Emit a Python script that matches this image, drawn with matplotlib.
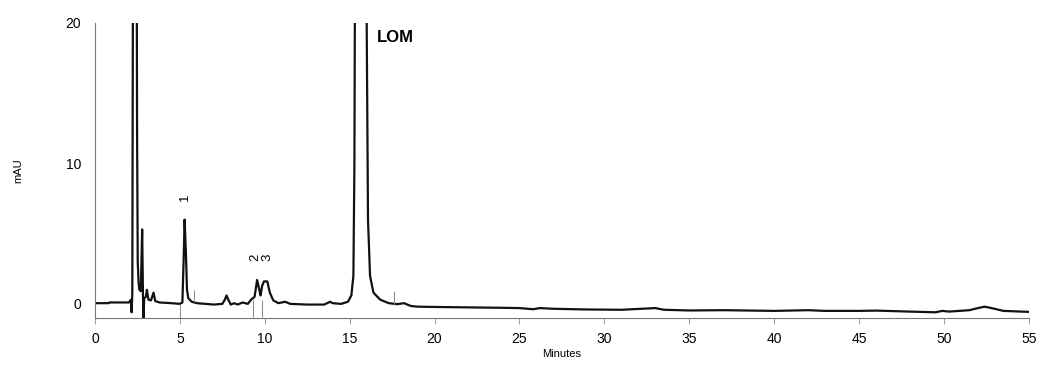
import numpy as np
from matplotlib import pyplot as plt

# chromatogram trace (minutes, mAU)
time = [0.0, 0.8, 0.85, 2.0, 2.12, 2.16, 2.2, 2.25, 2.45, 2.48, 2.52, 2.57, 2.62, 2.7,
        2.78, 2.83, 2.86, 2.9, 3.0, 3.06, 3.15, 3.3, 3.45, 3.55, 3.8, 4.5, 5.0,
        5.15, 5.22, 5.28, 5.36, 5.42, 5.5, 5.7, 6.0, 7.0, 7.5, 7.65, 7.75, 7.85,
        8.0, 8.2, 8.4, 8.7, 9.0, 9.2, 9.4, 9.55, 9.68, 9.75, 9.85, 9.95, 10.15,
        10.3, 10.5, 10.8, 11.2, 11.5, 12.5, 13.5, 13.85, 14.0, 14.5, 14.9, 15.1,
        15.22, 15.28, 15.33, 15.95, 16.02, 16.08, 16.2, 16.4, 16.8, 17.3, 17.8,
        18.2, 18.6, 19.0, 20.0, 22.0, 24.0, 25.0, 25.8, 26.2, 27.0, 29.0, 31.0,
        33.0, 33.5, 35.0, 37.0, 40.0, 42.0, 43.0, 45.0, 46.0, 48.0, 49.5, 49.9,
        50.3, 51.5, 52.0, 52.4, 52.8, 53.5, 55.0]
signal = [0.05, 0.05, 0.1, 0.1, 0.3, -0.6, 0.8, 30, 30, 12.3, 3.0, 1.5, 1.0, 0.9,
          5.3, 0.5, -1.0, 0.4, 0.5, 1.0, 0.3, 0.25, 0.8, 0.2, 0.1, 0.05, 0.0,
          0.1, 3.0, 6.0, 3.5, 1.0, 0.4, 0.15, 0.05, -0.05, 0.0, 0.3, 0.6, 0.3,
          -0.05, 0.05, -0.05, 0.1, 0.0, 0.3, 0.5, 1.7, 1.0, 0.6, 1.3, 1.6, 1.6,
          0.8, 0.25, 0.05, 0.15, 0.0, -0.05, -0.05, 0.15, 0.05, 0.0, 0.15, 0.6,
          2.0, 10, 30, 30, 17, 6, 2, 0.8, 0.3, 0.05, -0.02,
          0.05, -0.15, -0.2, -0.22, -0.25, -0.28, -0.3, -0.38, -0.3, -0.35, -0.4, -0.42,
          -0.3, -0.42, -0.47, -0.45, -0.5, -0.45, -0.5, -0.5, -0.48, -0.55, -0.6, -0.5,
          -0.55, -0.45, -0.3, -0.2, -0.3, -0.5, -0.57]

# integration marks drawn by the software
mark_t = [5.0, 5.83, 9.33, 9.82, 17.6]
mark_lo = [-1.0, 0.1, -0.9, -0.9, -0.1]
mark_hi = [0.0, 1.0, 0.3, 0.3, 0.9]

# peak labels
peak_names = ['1', '2', '3']
peak_t = [5.3, 9.42, 10.15]
peak_y = [7.6, 3.3, 3.3]

plt.rcParams['font.family'] = ['Liberation Sans', 'DejaVu Sans']

fig = plt.figure(figsize=(10.4, 3.65), dpi=100)
ax = fig.add_axes([0.0913, 0.129, 0.898, 0.808])

ax.plot(time, signal, color='#111111', linewidth=1.6)
ax.vlines(mark_t, mark_lo, mark_hi, color='#888888', linewidth=0.7)

for name, t, y in zip(peak_names, peak_t, peak_y):
    ax.text(t, y, name, rotation=90, ha='center', va='center', fontsize=9.5)
ax.text(16.6, 19.0, 'LOM', fontsize=12, fontweight='bold', ha='left', va='center')

ax.set_xlim(0, 55)
ax.set_ylim(-1, 20)
ax.set_xticks(np.arange(0, 56, 5))
ax.set_yticks([0, 10, 20])
ax.tick_params(axis='both', length=4, width=0.6, color='#888888', labelsize=10)
ax.tick_params(axis='x', pad=6)
ax.tick_params(axis='y', length=0, pad=10)

for side in ['top', 'right']:
    ax.spines[side].set_visible(False)
for side in ['left', 'bottom']:
    ax.spines[side].set_color('#777777')
    ax.spines[side].set_linewidth(0.8)

ax.set_xlabel('Minutes', fontsize=8, labelpad=2)
ax.set_ylabel('mAU', fontsize=8, labelpad=30)

fig.savefig('out.png', dpi=100)
